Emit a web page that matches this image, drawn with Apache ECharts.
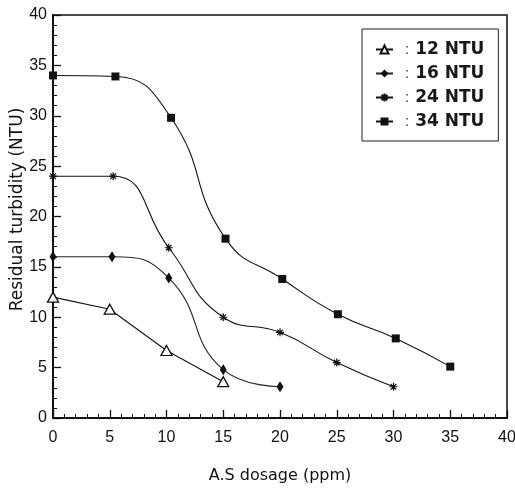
<!DOCTYPE html>
<html>
<head>
<meta charset="utf-8">
<script src="https://cdn.jsdelivr.net/npm/echarts@6/dist/echarts.min.js"></script>
<style>
  html, body { margin: 0; padding: 0; background: #fff; }
  #chart { width: 515px; height: 491px; }
</style>
</head>
<body>
<div id="chart"></div>
<script>
// values
var names = ["12 NTU", "16 NTU", "24 NTU", "34 NTU"];

var dose12 = [0, 5, 10, 15];
var turb12 = [12, 10.8, 6.7, 3.6];

var dose16 = [0, 5.2, 10.2, 15, 20];
var turb16 = [16, 16, 13.9, 4.8, 3.1];

var dose24 = [0, 5.3, 10.2, 15, 20, 25, 30];
var turb24 = [24, 24, 16.9, 10, 8.5, 5.5, 3.1];

var dose34 = [0, 5.5, 10.4, 15.2, 20.2, 25.1, 30.2, 35];
var turb34 = [34, 33.9, 29.8, 17.8, 13.8, 10.3, 7.9, 5.1];

var xTicks = [0, 5, 10, 15, 20, 25, 30, 35, 40];
var yTicks = [0, 5, 10, 15, 20, 25, 30, 35, 40];

function pairs(xs, ys) {
  return xs.map(function (x, i) { return [x, ys[i]]; });
}

var starPath = "path://M0,5L10,5M5,0L5,10M1.5,1.5L8.5,8.5M1.5,8.5L8.5,1.5";
var font = "Liberation Sans, Arial, sans-serif";
var wide = "DejaVu Sans, sans-serif";

var chartDom = document.getElementById("chart");
var myChart = echarts.init(chartDom);

var option = {
  animation: false,
  backgroundColor: "#fff",
  textStyle: { fontFamily: font, color: "#111" },
  grid: {
    left: 53,
    right: 8,
    top: 15,
    bottom: 73,
    outerBoundsMode: "none",
    show: true,
    borderColor: "#111",
    borderWidth: 1.5,
  },
  legend: {
    orient: "vertical",
    left: 362,
    top: 29,
    padding: [12, 14, 11, 13],
    itemGap: 7,
    itemWidth: 17,
    itemHeight: 10,
    borderColor: "#222",
    borderWidth: 1,
    backgroundColor: "#fff",
    formatter: function (name) { return "{c|:}{n|" + name + "}"; },
    textStyle: {
      fontSize: 16,
      color: "#111",
      rich: {
        c: { fontFamily: font, fontSize: 15, color: "#333", lineHeight: 18, padding: [0, 6, 0, 7] },
        n: { fontFamily: wide, fontWeight: "bold", fontSize: 17, color: "#1a1a1a", lineHeight: 18 },
      },
    },
    data: names,
  },
  xAxis: {
    type: "value",
    min: 0,
    max: 40,
    interval: 5,
    name: "A.S dosage (ppm)",
    nameLocation: "middle",
    nameGap: 50,
    nameMoveOverlap: false,
    nameTextStyle: { fontFamily: wide, fontSize: 16, color: "#111" },
    axisLine: { lineStyle: { color: "#111", width: 2 } },
    axisTick: { inside: true, length: 8, lineStyle: { color: "#111", width: 1.3 } },
    minorTick: { show: true, splitNumber: 5, length: 4, lineStyle: { color: "#111", width: 1 } },
    axisLabel: {
      fontSize: 16,
      color: "#111",
      margin: 12,
      formatter: function (v) { return xTicks.indexOf(v) >= 0 ? String(v) : ""; },
    },
    splitLine: { show: false },
  },
  yAxis: {
    type: "value",
    min: 0,
    max: 40,
    interval: 5,
    name: "Residual turbidity (NTU)",
    nameLocation: "middle",
    nameGap: 27,
    nameMoveOverlap: false,
    nameTextStyle: { fontFamily: wide, fontSize: 17, color: "#111", padding: [0, 0, 0, 14] },
    axisLine: { lineStyle: { color: "#111", width: 2 } },
    axisTick: { inside: true, length: 8, lineStyle: { color: "#111", width: 1.3 } },
    minorTick: { show: true, splitNumber: 5, length: 4, lineStyle: { color: "#111", width: 1 } },
    axisLabel: {
      fontSize: 16,
      color: "#111",
      margin: 6,
      formatter: function (v) { return yTicks.indexOf(v) >= 0 ? String(v) : ""; },
    },
    splitLine: { show: false },
  },
  series: [
    {
      name: names[0],
      type: "line",
      data: pairs(dose12, turb12),
      smooth: false,
      symbol: "triangle",
      symbolSize: [11, 10],
      lineStyle: { color: "#111", width: 1.1 },
      itemStyle: { color: "#fff", borderColor: "#111", borderWidth: 1.3 },
    },
    {
      name: names[1],
      type: "line",
      data: pairs(dose16, turb16),
      smooth: 0.5,
      symbol: "diamond",
      symbolSize: [7, 11],
      lineStyle: { color: "#222", width: 1.1 },
      itemStyle: { color: "#111", borderColor: "#111", borderWidth: 0 },
    },
    {
      name: names[2],
      type: "line",
      data: pairs(dose24, turb24),
      smooth: 0.5,
      symbol: starPath,
      symbolSize: 8,
      lineStyle: { color: "#111", width: 1.1 },
      itemStyle: { color: "#111", borderColor: "#111", borderWidth: 1.2 },
    },
    {
      name: names[3],
      type: "line",
      data: pairs(dose34, turb34),
      smooth: 0.5,
      symbol: "rect",
      symbolSize: 8,
      lineStyle: { color: "#111", width: 1.1 },
      itemStyle: { color: "#111", borderColor: "#111", borderWidth: 0 },
    },
  ],
};

if (option && typeof option === "object") {
  myChart.setOption(option);
}

window.addEventListener("resize", myChart.resize);
</script>
</body>
</html>
